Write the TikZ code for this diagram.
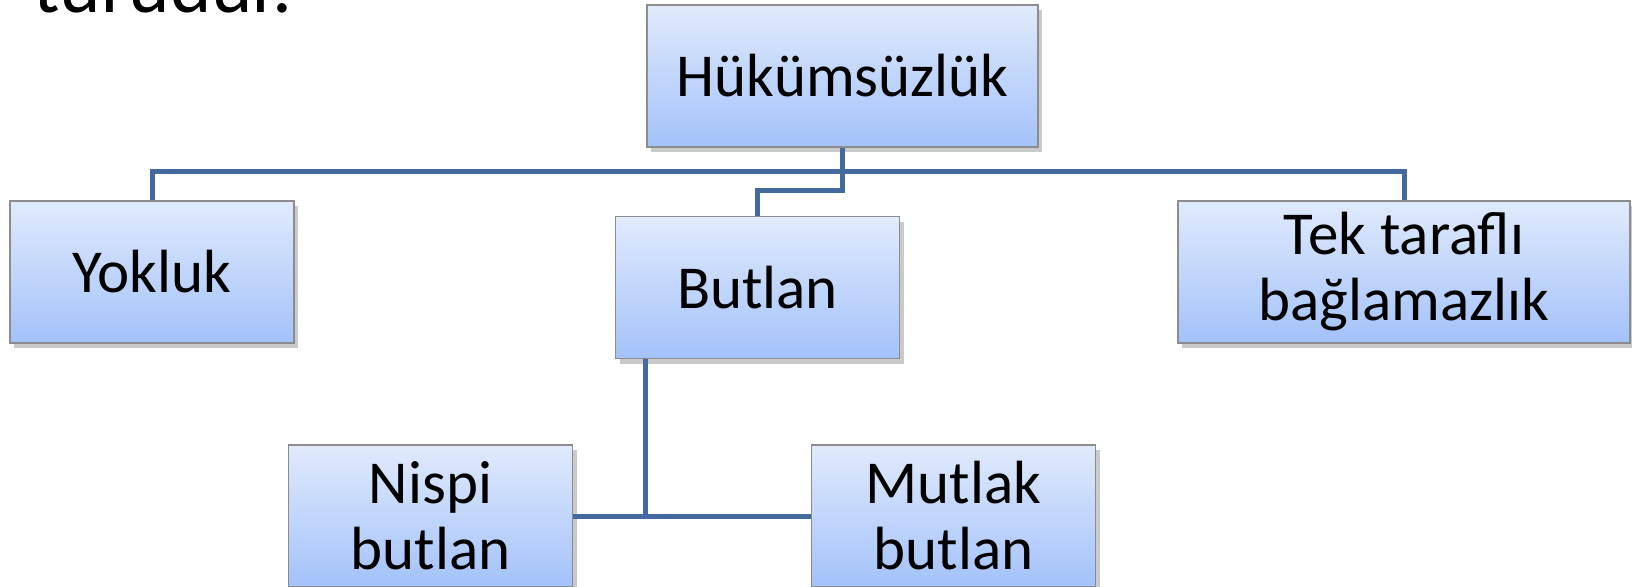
\documentclass[tikz,border=0pt]{standalone}
\usepackage{fontspec}
\setmainfont{Carlito}
\usetikzlibrary{shadows}
\definecolor{boxtop}{RGB}{224,234,252}
\definecolor{boxbot}{RGB}{163,194,250}
\definecolor{boxline}{RGB}{140,140,140}
\definecolor{conncol}{RGB}{66,106,158}
\tikzset{
  kutu/.style={draw=boxline,line width=0.6pt,top color=boxtop,bottom color=boxbot,
    minimum width=142pt,minimum height=71pt,align=center,inner sep=2pt,
    font=\fontsize{30.5}{33}\selectfont,
    drop shadow={shadow xshift=2pt,shadow yshift=-2.5pt,fill=black!60,opacity=0.35}},
  baglanti/.style={draw=conncol,line width=2.5pt}
}
\begin{document}
\begin{tikzpicture}[x=0.5pt,y=-0.5pt]
    \useasboundingbox (0,0) rectangle (1632,586);
    \clip (0,0) rectangle (1632,586);
    % cut off line of the slide text
    \node[anchor=base west,inner sep=0,font=\fontsize{39.4}{40}\selectfont] (ust) at (33,12) {turudur.};
    % boxes
    \node[kutu,minimum width=195.5pt] (hk) at (842.5,76) {Hükümsüzlük};
    \node[kutu] (yok) at (152,272) {Yokluk};
    \node[kutu] (but) at (757.5,287.5) {Butlan};
    \node[kutu,minimum width=226pt] (tek) at (1404,272) {Tek taraflı\\bağlamazlık};
    \node[kutu] (nis) at (430.5,516) {Nispi\\butlan};
    \node[kutu] (mut) at (953.5,516) {Mutlak\\butlan};
    % connectors
    \coordinate (bus) at (843,171);
    \coordinate (jog) at (800,190);
    \coordinate (kol) at (645,514);
    \draw[baglanti] (yok.north) |- (bus) -| (tek.north);
    \draw[baglanti] (hk.south) |- (jog) -| (but.north);
    \draw[baglanti] (nis.east) -- (mut.west);
    \draw[baglanti] (kol |- but.south) -- (kol);
\end{tikzpicture}
\end{document}
